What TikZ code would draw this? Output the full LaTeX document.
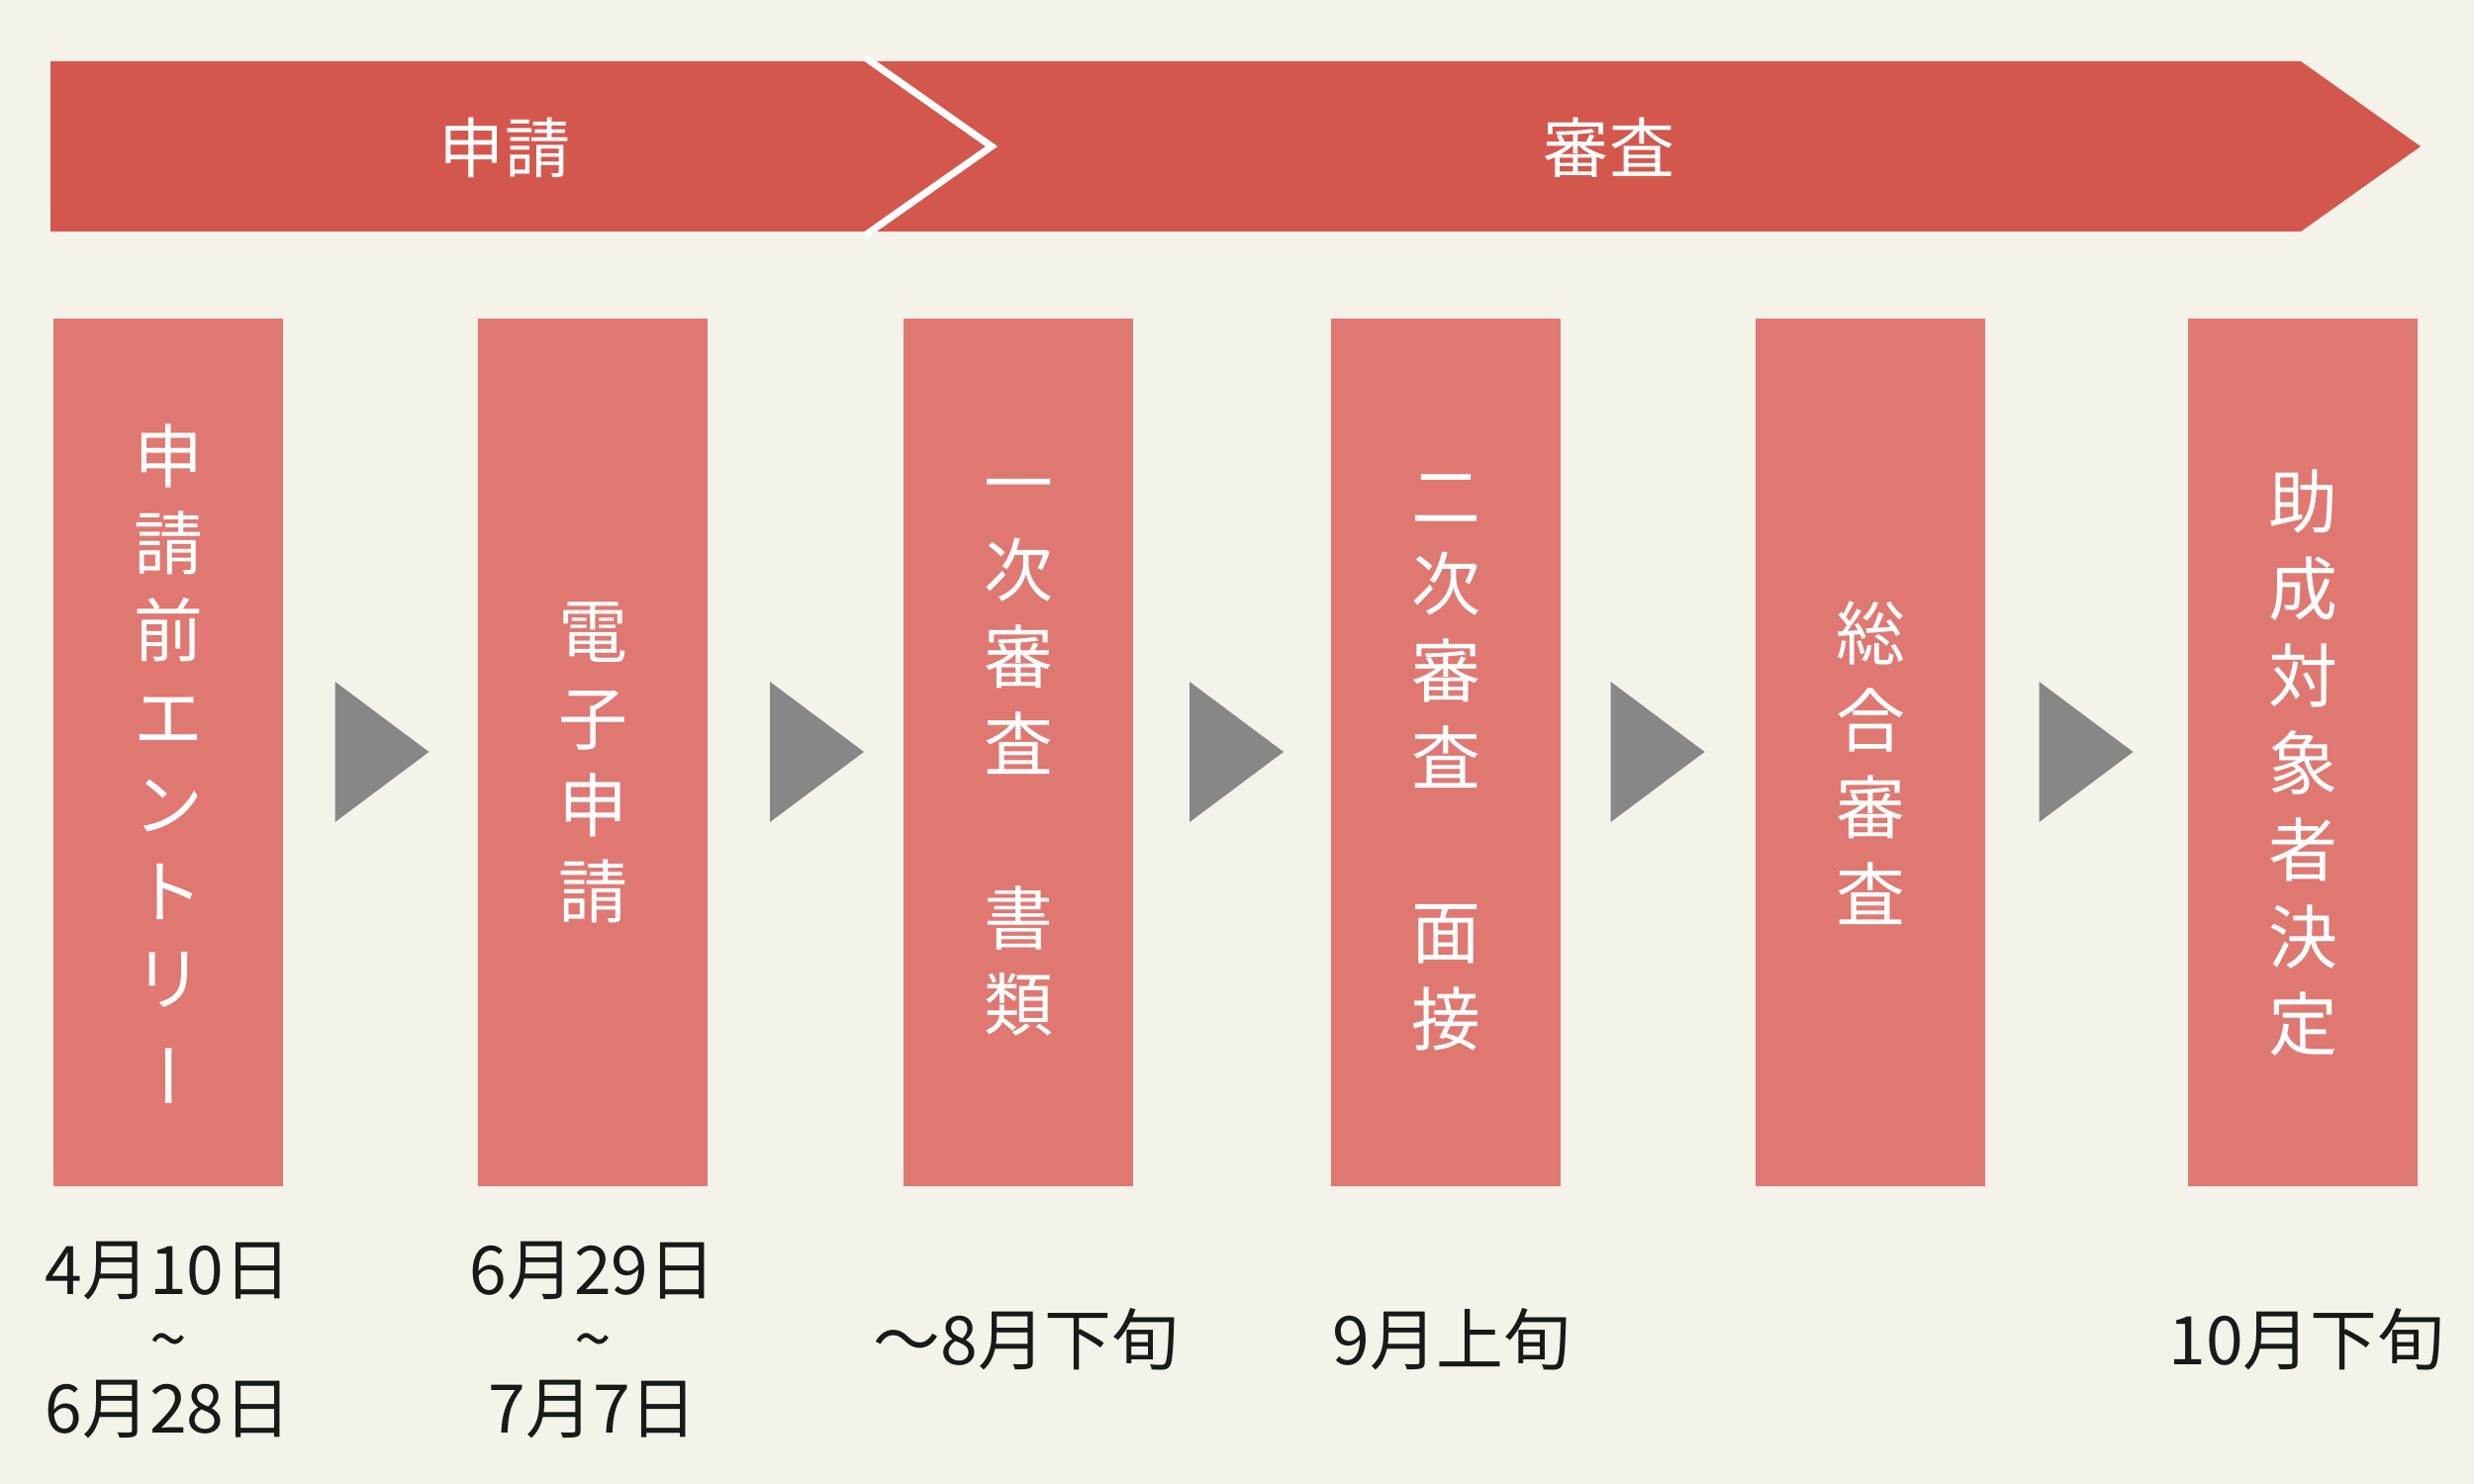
\documentclass[tikz,border=0pt]{standalone}
\usepackage{fontspec}
\setmainfont{Noto Sans CJK JP}
\usepackage{tikz}
\usetikzlibrary{calc, positioning}

\definecolor{bandred}{HTML}{D4574D}
\definecolor{boxred}{HTML}{E07872}
\definecolor{pagebg}{HTML}{F5F2EA}
\definecolor{stepgray}{HTML}{878787}

\newcommand{\tatebar}{\hspace*{6.8pt}\rotatebox[origin=c]{90}{ー}}

\tikzset{
    stepbox/.style={fill=boxred, minimum width=23.2mm, minimum height=87.7mm, inner sep=0pt},
    steptext/.style={text=white, inner sep=0pt, align=center, font=\fontsize{19.9}{25}\selectfont},
    bandlabel/.style={text=white, font=\fontsize{18.8}{22}\selectfont},
    datetext/.style={text=black!90, align=center, font=\fontsize{19.3}{19.9}\selectfont},
}

\begin{document}
\begin{tikzpicture}[x=0.1mm, y=-0.1mm]
    \fill[pagebg] (0,0) rectangle (2500,1500);
    \useasboundingbox (0,0) rectangle (2500,1500);
    % Pita atas: dua panah
    \fill[bandred] (51,62) -- (874,62) -- (1002,148) -- (874,234) -- (51,234) -- cycle;
    \fill[bandred] (874,62) -- (2325,62) -- (2446,148) -- (2325,234) -- (874,234) -- (1002,148) -- cycle;
    \draw[white, line width=0.7mm] (874,58) -- (1002,148) -- (874,238);
    \node[bandlabel] (apply) at (510,149) {申請};
    \node[bandlabel] (review) at (1626,149) {審査};
    % Kotak tahap
    \foreach \i/\cx in {1/170, 2/599, 3/1029, 4/1461, 5/1890, 6/2327} {
        \node[stepbox] (s\i) at (\cx,760) {};
    }
    \node[steptext] (t1) at ($(s1)+(0,16)$) {申\\請\\前\\エ\\ン\\ト\\リ\\\tatebar};
    \node[steptext] (t2) at ($(s2)+(0,11)$) {電\\子\\申\\請};
    \node[steptext] (t3) at ($(s3)+(0,6)$) {一\\次\\審\\査\\　\\書\\類};
    \node[steptext] (t4) at ($(s4)+(0,11)$) {二\\次\\審\\査\\　\\面\\接};
    \node[steptext] (t5) at ($(s5)+(0,11)$) {総\\合\\審\\査};
    \node[steptext] (t6) at ($(s6)+(0,11)$) {助\\成\\対\\象\\者\\決\\定};
    % Segitiga antar tahap
    \foreach \a/\b/\dx in {1/2/2, 2/3/12, 3/4/5, 4/5/0, 5/6/0} {
        \coordinate (m\a) at ($(s\a.east)!0.5!(s\b.west)+(\dx,0)$);
        \fill[stepgray] ($(m\a)+(-48,-71)$) -- ($(m\a)+(47,0)$) -- ($(m\a)+(-48,71)$) -- cycle;
    }
    % Tanggal
    \node[datetext] (d1) at ($(s1.south)+(0,155)$) {4月10日\\\textasciitilde\\6月28日};
    \node[datetext] (d2) at ($(s2.south)+(0,155)$) {6月29日\\\textasciitilde\\7月7日};
    \node[datetext] (d3) at ($(s3.south)+(8,155)$) {〜8月下旬};
    \node[datetext] (d4) at ($(s4.south)+(6,155)$) {9月上旬};
    \node[datetext] (d6) at ($(s6.south)+(4,155)$) {10月下旬};
\end{tikzpicture}
\end{document}
